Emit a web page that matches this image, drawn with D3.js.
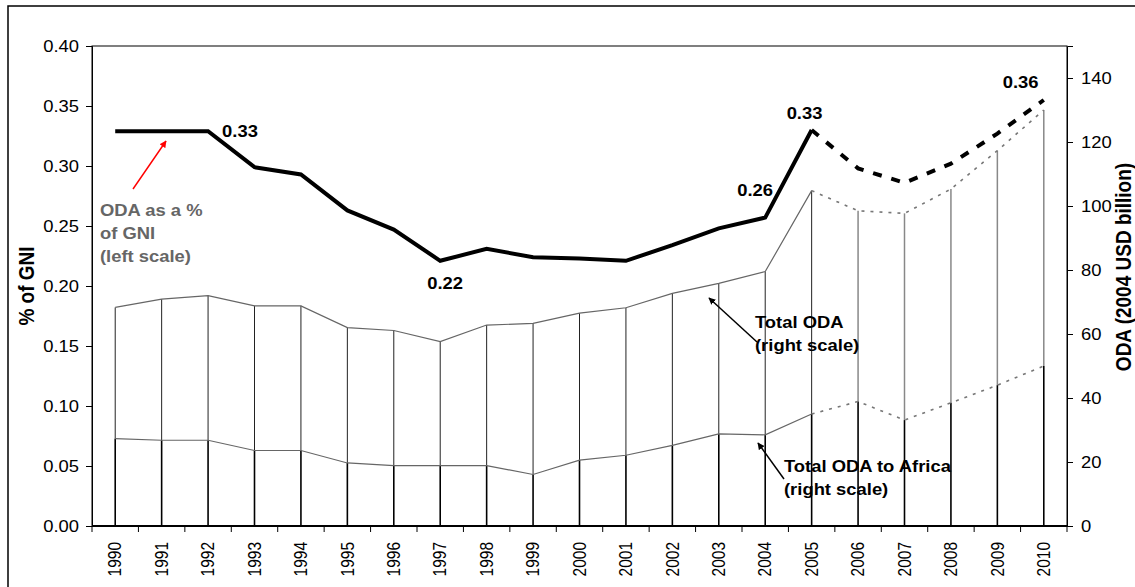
<!DOCTYPE html>
<html>
<head>
<meta charset="utf-8">
<script src="https://cdn.jsdelivr.net/npm/d3@7"></script>
<style>
  body { margin: 0; background: #fff; }
  svg { display: block; font-family: "Liberation Sans", Arial, sans-serif; }
  .axis path, .axis line { stroke: #000; }
</style>
</head>
<body>
<svg id="chart" width="1135" height="587"></svg>
<script>
// Data
const years = ['1990','1991','1992','1993','1994','1995','1996','1997','1998','1999','2000',
  '2001','2002','2003','2004','2005','2006','2007','2008','2009','2010'];
const odaGni = [0.329, 0.329, 0.329, 0.299, 0.293, 0.263, 0.247, 0.221, 0.231, 0.224, 0.223,
  0.221, 0.234, 0.248, 0.257, 0.330, 0.298, 0.286, 0.302, 0.327, 0.355];
const totalOda = [68.3, 70.9, 72.0, 68.8, 68.8, 62.0, 61.1, 57.6, 62.8, 63.3, 66.5,
  68.2, 72.7, 75.8, 79.5, 104.8, 98.5, 97.7, 105.3, 117.3, 130.0];
const africaOda = [27.3, 26.8, 26.8, 23.6, 23.6, 19.7, 18.85, 18.85, 18.85, 16.1, 20.6,
  22.1, 25.2, 28.8, 28.5, 35.0, 38.9, 33.1, 38.5, 44.0, 50.0];
const leftTicks = [0, 0.05, 0.10, 0.15, 0.20, 0.25, 0.30, 0.35, 0.40];
const rightTicks = [0, 20, 40, 60, 80, 100, 120, 140];
const lastActual = '2005';
const valueLabels = [
  { year: '1992', text: '0.33' },
  { year: '1997', text: '0.22' },
  { year: '2004', text: '0.26' },
  { year: '2005', text: '0.33' },
  { year: '2010', text: '0.36' }
];

const SX = 1.15; // the source picture is stretched sideways

const margin = { top: 46, right: 68, bottom: 61, left: 92 };
const width = 1135 - margin.left - margin.right;
const height = 587 - margin.top - margin.bottom;

const svg = d3.select('#chart');

// outer frame (only top and left show)
svg.append('rect')
  .attr('x', 8).attr('y', 6).attr('width', 1300).attr('height', 1000)
  .attr('fill', 'none').attr('stroke', '#000').attr('stroke-width', 1.5);

const g = svg.append('g').attr('transform', `translate(${margin.left},${margin.top})`);

// scales
const x = d3.scaleBand().domain(years).range([0, width]);
const cx = d => x(d) + x.bandwidth() / 2;
const yLeft = d3.scaleLinear().domain([0, 0.40]).range([height, 0]);
const yRight = d3.scaleLinear().domain([0, 150]).range([height, 0]);

const split = years.indexOf(lastActual);
const idx = d3.range(years.length);
const isProj = i => i > split;

// bars: lower part to Africa, upper part to total
g.selectAll('.bar-up').data(idx).enter().append('line')
  .attr('class', 'bar-up')
  .attr('x1', i => cx(years[i])).attr('x2', i => cx(years[i]))
  .attr('y1', i => yRight(africaOda[i])).attr('y2', i => yRight(totalOda[i]))
  .attr('stroke', i => isProj(i) ? '#888' : '#222')
  .attr('stroke-width', i => isProj(i) ? 1.5 : 1);

g.selectAll('.bar-low').data(idx).enter().append('line')
  .attr('class', 'bar-low')
  .attr('x1', i => cx(years[i])).attr('x2', i => cx(years[i]))
  .attr('y1', yRight(0)).attr('y2', i => yRight(africaOda[i]))
  .attr('stroke', '#000').attr('stroke-width', 1.6);

// series lines, solid then dotted / dashed for projections
function drawSeries(values, scale, solidStyle, projStyle) {
  const line = d3.line().x(i => cx(years[i])).y(i => scale(values[i]));
  const solid = idx.filter(i => i <= split);
  const proj = idx.filter(i => i >= split);
  g.append('path').datum(solid).attr('d', line).attr('fill', 'none')
    .attr('stroke', solidStyle.color).attr('stroke-width', solidStyle.width)
    .attr('stroke-linejoin', 'miter');
  g.append('path').datum(proj).attr('d', line).attr('fill', 'none')
    .attr('stroke', projStyle.color).attr('stroke-width', projStyle.width)
    .attr('stroke-dasharray', projStyle.dash);
}

drawSeries(totalOda, yRight, { color: '#666', width: 1.2 }, { color: '#777', width: 1.6, dash: '3,6' });
drawSeries(africaOda, yRight, { color: '#666', width: 1.2 }, { color: '#777', width: 1.6, dash: '3,6' });
drawSeries(odaGni, yLeft, { color: '#000', width: 4 }, { color: '#000', width: 4, dash: '9,10' });

// plot frame
g.append('rect').attr('width', width).attr('height', height)
  .attr('fill', 'none').attr('stroke', '#000').attr('stroke-width', 1);

// axes
function stretchTicks(sel) {
  sel.selectAll('.tick text').each(function () {
    const t = d3.select(this);
    const tx = +t.attr('x') || 0;
    t.attr('transform', `translate(${tx},0) scale(${SX},1)`).attr('x', 0);
  });
}

const yAxisL = g.append('g').attr('class', 'axis')
  .call(d3.axisLeft(yLeft).tickValues(leftTicks).tickFormat(d3.format('.2f')).tickSize(6).tickPadding(7));
yAxisL.selectAll('text').attr('font-size', 16).attr('fill', '#000');
stretchTicks(yAxisL);

const yAxisR = g.append('g').attr('class', 'axis')
  .attr('transform', `translate(${width},0)`)
  .call(d3.axisRight(yRight).tickValues(rightTicks).tickSize(6).tickPadding(8));
yAxisR.selectAll('text').attr('font-size', 16).attr('fill', '#000');
stretchTicks(yAxisR);

const xTickPos = idx.map(i => x(years[i])).concat([width]);
const xAxis = g.append('g').attr('class', 'axis')
  .attr('transform', `translate(0,${height})`);
xAxis.append('line').attr('x1', 0).attr('x2', width).attr('stroke', '#000').attr('stroke-width', 2);
xAxis.selectAll('.xt').data(xTickPos).enter().append('line')
  .attr('x1', d => d).attr('x2', d => d).attr('y1', 0).attr('y2', 6).attr('stroke', '#000');
xAxis.selectAll('.xl').data(years).enter().append('text')
  .attr('transform', d => `translate(${cx(d)},16) rotate(-90) scale(1,${SX})`)
  .attr('dy', '0.35em').attr('text-anchor', 'end')
  .attr('font-size', 15.5).text(d => d);

// axis titles
svg.append('text')
  .attr('transform', `translate(26,${margin.top + height / 2}) rotate(-90) scale(1,${SX})`)
  .attr('text-anchor', 'middle').attr('dy', '0.35em')
  .attr('font-size', 19).attr('font-weight', 'bold').text('% of GNI');
svg.append('text')
  .attr('transform', `translate(1123,267) rotate(-90) scale(1,${SX})`)
  .attr('text-anchor', 'middle').attr('dy', '0.35em')
  .attr('font-size', 19).attr('font-weight', 'bold').text('ODA (2004 USD billion)');

// value labels on the GNI line
const labelPos = {
  '1992': [14, 6], '1997': [-13, 28], '2004': [-28, -22], '2005': [-25, -11], '2010': [-41, -12]
};
valueLabels.forEach(l => {
  const i = years.indexOf(l.year);
  const [dx, dy] = labelPos[l.year];
  g.append('text')
    .attr('transform', `translate(${cx(l.year) + dx},${yLeft(odaGni[i]) + dy}) scale(${SX},1)`)
    .attr('font-size', 16).attr('font-weight', 'bold').text(l.text);
});

// annotations
const defs = svg.append('defs');
function marker(id, color) {
  defs.append('marker').attr('id', id).attr('viewBox', '0 0 10 10')
    .attr('refX', 9).attr('refY', 5).attr('markerWidth', 7).attr('markerHeight', 7)
    .attr('orient', 'auto-start-reverse').attr('markerUnits', 'userSpaceOnUse')
    .append('path').attr('d', 'M0,0 L10,5 L0,10 z').attr('fill', color);
}
marker('arrRed', '#f00');
marker('arrBlk', '#000');

function note(lines, x0, y0, color) {
  lines.forEach((s, k) => {
    svg.append('text')
      .attr('transform', `translate(${x0},${y0 + k * 23}) scale(${SX},1)`)
      .attr('font-size', 16).attr('font-weight', 'bold').attr('fill', color).text(s);
  });
}
function arrow(x1, y1, x2, y2, color, id) {
  svg.append('line').attr('x1', x1).attr('y1', y1).attr('x2', x2).attr('y2', y2)
    .attr('stroke', color).attr('stroke-width', 1.5).attr('marker-end', `url(#${id})`);
}

note(['ODA as a %', 'of GNI', '(left scale)'], 100, 216, '#666');
arrow(133, 189, 166, 141, '#f00', 'arrRed');

note(['Total ODA', '(right scale)'], 755, 328, '#000');
arrow(757, 342, 709, 298, '#000', 'arrBlk');

note(['Total ODA to Africa', '(right scale)'], 784, 472, '#000');
arrow(784, 479, 758, 443, '#000', 'arrBlk');
</script>
</body>
</html>
